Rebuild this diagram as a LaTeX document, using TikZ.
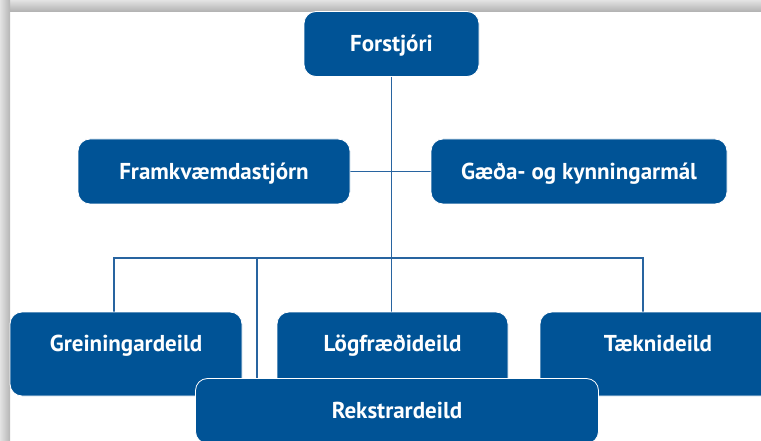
\documentclass[tikz,border=0pt]{standalone}
\usepackage{fontspec}
\setmainfont{PT Sans}
\usetikzlibrary{positioning, backgrounds}
\definecolor{orgblue}{RGB}{0,83,150}
\definecolor{linkblue}{RGB}{40,100,160}
\tikzset{
  unit/.style={fill=orgblue, text=white, draw=white, line width=0.8pt,
    rounded corners=12pt, inner sep=0pt,
    font=\fontsize{23}{27}\selectfont\bfseries,
    text height=40pt, text depth=25pt},
  dept/.style={unit, text height=39pt, text depth=45pt},
  link/.style={draw=linkblue, line width=1.3pt}
}

\begin{document}
\begin{tikzpicture}[x=1pt, y=-1pt]
\useasboundingbox (0,0) rectangle (761,441);
\clip (0,0) rectangle (761,441);

% Frame shadow
\shade[top color=gray!22, bottom color=gray!62] (0,0) rectangle (761,12);
\shade[left color=gray!22, right color=gray!58] (0,0) rectangle (10,441);

% Top of the chart
\node[unit, minimum width=175pt] (forstjori) at (391.5,44) {Forstjóri};

% Staff units
\node[unit, minimum width=272pt] (framkv) at (214,171.5) {Framkvæmdastjórn};
\node[unit, minimum width=296pt] (gaeda) at (579,171.5) {Gæða- og kynningarmál};

% Departments
\node[dept, minimum width=232pt] (grein) at (126,354) {Greiningardeild};
\node[dept, minimum width=231pt] (logfr) at (392.5,354) {Lögfræðideild};
\node[dept, minimum width=236pt] (taekni) at (658,354) {Tæknideild};
\node[unit, minimum width=403pt] (rekstur) at (397,411) {Rekstrardeild};

% Bus points
\coordinate (busL) at (114,258);
\coordinate (busM) at (257,258);
\coordinate (busR) at (643,258);

% Connectors
\begin{scope}[on background layer]
\draw[link] (forstjori.south) -- (forstjori.south |- logfr.north);
\draw[link] (framkv.east) -- (gaeda.west);
\draw[link] (busL |- grein.north) -- (busL) -- (busR) -- (busR |- taekni.north);
\draw[link] (busM) -- (busM |- rekstur.north);
\end{scope}
\end{tikzpicture}
\end{document}
